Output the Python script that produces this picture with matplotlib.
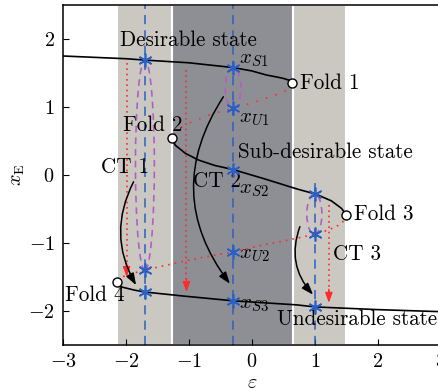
import matplotlib
matplotlib.use("Agg")
import matplotlib.pyplot as plt
from matplotlib.patches import Ellipse

plt.rcParams['font.family'] = ['cmr10', 'DejaVu Serif']
plt.rcParams['mathtext.fontset'] = 'cm'
plt.rcParams['axes.formatter.use_mathtext'] = True
plt.rcParams['axes.unicode_minus'] = False

# ---- data ----
# stable upper branch (desirable)
ub_x = [-3.0, -2.5, -2.0, -1.7, -1.0, -0.3, 0.0, 0.23, 0.40, 0.50, 0.60, 0.64]
ub_y = [1.75, 1.73, 1.71, 1.69, 1.65, 1.58, 1.53, 1.47, 1.44, 1.42, 1.39, 1.35]
# unstable upper branch
uu_x = [0.64, 0.60, 0.50, 0.32, 0.14, -0.04, -0.30, -0.59, -0.77, -0.96, -1.12, -1.22, -1.265]
uu_y = [1.35, 1.28, 1.22, 1.16, 1.10, 1.05, 0.98, 0.91, 0.85, 0.78, 0.70, 0.62, 0.54]
# stable middle branch (sub-desirable)
ms_x = [-1.265, -1.22, -1.06, -0.85, -0.59, -0.30, 0.21, 0.73, 1.01, 1.26, 1.42, 1.50]
ms_y = [0.54, 0.44, 0.32, 0.22, 0.14, 0.08, -0.06, -0.21, -0.28, -0.38, -0.49, -0.59]
# unstable lower branch
ul_x = [1.50, 1.44, 1.37, 1.21, 1.00, 0.76, 0.23, -0.30, -0.83, -1.09, -1.71, -1.99, -2.12, -2.15]
ul_y = [-0.59, -0.69, -0.74, -0.81, -0.87, -0.92, -1.02, -1.13, -1.22, -1.27, -1.40, -1.47, -1.53, -1.57]
# stable lower branch (undesirable)
ls_x = [-2.15, -2.10, -1.88, -1.71, -1.09, -0.30, 0.71, 1.00, 2.0, 3.0]
ls_y = [-1.57, -1.64, -1.69, -1.72, -1.78, -1.85, -1.91, -1.94, -1.98, -2.01]

fold_x = [0.64, -1.265, 1.50, -2.15]
fold_y = [1.35, 0.54, -0.59, -1.57]
fold_labels = ['Fold 1', 'Fold 2', 'Fold 3', 'Fold 4']

star_x = [-1.7, -1.7, -1.7, -0.3, -0.3, -0.3, -0.3, -0.3, 1.0, 1.0, 1.0]
star_y = [1.69, -1.40, -1.72, 1.58, 0.98, 0.08, -1.13, -1.85, -0.28, -0.87, -1.94]

eq_labels = [r'$x_{S1}$', r'$x_{U1}$', r'$x_{S2}$', r'$x_{U2}$', r'$x_{S3}$']

vline_x = [-1.7, -0.3, 1.0]
vline_top = [2.5, 2.5, -0.05]

# bands (light, dark, light) between fold points
band_lo = [-2.15, -1.265, 0.65]
band_hi = [-1.265, 0.65, 1.50]
band_col = ['#cbc8c2', '#8e8f95', '#cbc8c2']

# red dotted drop arrows
ra_x = [-1.99, -1.04, 1.22]
ra_top = [1.64, 1.54, -0.44]
ra_tip = [-1.50, -1.72, -1.88]

# magenta dashed loops: centre x, centre y, width, height
lp_cx = [-1.70, -0.30, 0.99]
lp_cy = [0.145, 1.28, -0.575]
lp_w = [0.30, 0.25, 0.24]
lp_h = [3.09, 0.60, 0.59]

# CT transition arrows
ct_sx = [-1.88, -0.455, 0.76]
ct_sy = [-0.10, 1.15, -0.76]
ct_ex = [-1.84, -0.35, 0.97]
ct_ey = [-1.62, -1.60, -1.76]
ct_rad = [0.27, 0.35, 0.30]

fig = plt.figure(figsize=(4.39, 3.92), dpi=100)
ax = fig.add_axes([63/439, 47/392, 378/439, 340/392])
ax.set_xlim(-3, 3)
ax.set_ylim(-2.5, 2.5)

for lo, hi, c in zip(band_lo, band_hi, band_col):
    ax.axvspan(lo, hi, facecolor=c, edgecolor='white', linewidth=1.5, zorder=0)

blue = '#2a5fc4'
for vx, vt in zip(vline_x, vline_top):
    ax.plot([vx, vx], [-2.5, vt], color=blue, lw=1.1, dashes=(6, 4), zorder=2)

mag = '#b45ec4'
for cx, cy, w, h in zip(lp_cx, lp_cy, lp_w, lp_h):
    ax.add_patch(Ellipse((cx, cy), w, h, fill=False, edgecolor=mag, lw=1.2,
                         linestyle=(0, (4, 3)), zorder=2))

red = '#ff2a2a'
for x, t, b in zip(ra_x, ra_top, ra_tip):
    ax.plot([x, x], [t, b + 0.1], color=red, lw=1.2, dashes=(1, 2.2), zorder=3)
    ax.annotate('', xy=(x, b), xytext=(x, b + 0.2),
                arrowprops=dict(arrowstyle='-|>,head_length=0.6,head_width=0.22',
                                color=red, lw=1.0, shrinkA=0, shrinkB=0), zorder=3)

ax.plot(ub_x, ub_y, color='k', lw=1.2, zorder=3)
ax.plot(ms_x, ms_y, color='k', lw=1.2, zorder=3)
ax.plot(ls_x, ls_y, color='k', lw=1.2, zorder=3)
ax.plot(uu_x, uu_y, color=red, lw=1.2, dashes=(1, 5), zorder=3)
ax.plot(ul_x, ul_y, color=red, lw=1.2, dashes=(1, 3), zorder=3)

for sx, sy, ex, ey, r in zip(ct_sx, ct_sy, ct_ex, ct_ey, ct_rad):
    ax.annotate('', xy=(ex, ey), xytext=(sx, sy),
                arrowprops=dict(arrowstyle='-|>,head_length=0.7,head_width=0.25',
                                connectionstyle='arc3,rad=%s' % r,
                                color='k', lw=1.1, shrinkA=0, shrinkB=0), zorder=4)

ax.plot(star_x, star_y, linestyle='none', marker=(6, 2, 0), markersize=10,
        markeredgewidth=1.2, color=blue, zorder=5)
ax.plot(fold_x, fold_y, linestyle='none', marker='o', markersize=6.5,
        markerfacecolor='white', markeredgecolor='k', markeredgewidth=1.0, zorder=5)

fs = 15.2
# text labels
ax.text(-2.10, 1.89, 'Desirable state', fontsize=fs, ha='left', va='baseline')
ax.text(-0.22, 0.25, 'Sub-desirable state', fontsize=fs, ha='left', va='baseline')
ax.text(0.40, -2.21, 'Undesirable state', fontsize=fs, ha='left', va='baseline')
fold_tx = [0.76, -2.05, 1.62, -2.97]
fold_ty = [1.26, 0.64, -0.66, -1.85]
for lab, tx, ty in zip(fold_labels, fold_tx, fold_ty):
    ax.text(tx, ty, lab, fontsize=fs, ha='left', va='baseline')
ct_labels = ['CT 1', 'CT 2', 'CT 3']
ct_tx = [-2.39, -0.94, 1.29]
ct_ty = [0.03, -0.17, -1.25]
for lab, tx, ty in zip(ct_labels, ct_tx, ct_ty):
    ax.text(tx, ty, lab, fontsize=fs, ha='left', va='baseline')
eq_ty = [1.64, 0.78, -0.27, -1.23, -1.96]
for lab, ty in zip(eq_labels, eq_ty):
    ax.text(-0.20, ty, lab, fontsize=fs, ha='left', va='baseline')

ax.set_xticks([-3, -2, -1, 0, 1, 2, 3])
ax.set_yticks([-2, -1, 0, 1, 2])
ax.tick_params(direction='in', length=4, width=0.8, labelsize=14.5, pad=6)
for s in ax.spines.values():
    s.set_linewidth(1.1)
ax.set_xlabel(r'$\varepsilon$', fontsize=14.5, labelpad=2)
ax.set_ylabel(r'$x_{\rm E}$', fontsize=14.5, labelpad=1)

fig.savefig('out.png', dpi=100)
